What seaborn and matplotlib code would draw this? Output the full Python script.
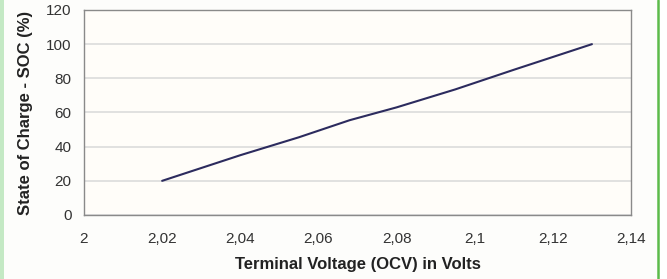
import numpy as np
import pandas as pd
import matplotlib
matplotlib.use("Agg")
import matplotlib.pyplot as plt
from matplotlib.ticker import FuncFormatter
from matplotlib.patches import Rectangle
from matplotlib.lines import Line2D
import seaborn as sns

# values
voltage = [2.02, 2.04, 2.055, 2.068, 2.08, 2.095, 2.11, 2.13]
soc = [20, 35, 45.5, 55.5, 63, 73.5, 85, 100]
x_ticks = [2.00, 2.02, 2.04, 2.06, 2.08, 2.10, 2.12, 2.14]
y_ticks = [0, 20, 40, 60, 80, 100, 120]


def comma_fmt(v, pos):
    s = f"{v:.2f}".rstrip("0").rstrip(".")
    return s.replace(".", ",")


sns.set_style("white")
plt.rcParams["font.family"] = ["Liberation Sans", "DejaVu Sans"]

df = pd.DataFrame({"voltage": voltage, "soc": soc})

fig = plt.figure(figsize=(6.67, 2.79), dpi=100)
fig.patch.set_facecolor("#fdfdfb")
ax = fig.add_axes([84 / 667, 1 - 215 / 279, (631 - 84) / 667, (215 - 10) / 279])
ax.set_facecolor("#fffdf9")

sns.lineplot(data=df, x="voltage", y="soc", ax=ax, color="#2c2b5e", lw=1.5)

ax.set_xlim(2.0, 2.14)
ax.set_ylim(0, 120)
ax.set_xticks(x_ticks)
ax.set_yticks(y_ticks)
ax.xaxis.set_major_formatter(FuncFormatter(comma_fmt))
ax.grid(True, axis="y", color="#dcdcdc", lw=1.2)
ax.set_axisbelow(True)

for side in ["top", "right", "bottom", "left"]:
    ax.spines[side].set_color("#8a8a8a")
    ax.spines[side].set_linewidth(1.0)

ax.tick_params(axis="both", direction="out", length=4, width=0.8,
               color="#8a8a8a", labelsize=11, labelcolor="#333333")
ax.tick_params(axis="x", pad=8)
ax.tick_params(axis="y", pad=5)
ax.set_xlabel("Terminal Voltage (OCV) in Volts", fontsize=12,
              fontweight="bold", color="#222222", labelpad=8)
ax.set_ylabel("State of Charge - SOC (%)", fontsize=12,
              fontweight="bold", color="#222222", labelpad=9)

# green frame decoration
fig.patches.append(Rectangle((0, 0), 4 / 667, 1, transform=fig.transFigure,
                             facecolor="#c4e9c4", edgecolor="none"))
fig.lines.append(Line2D([658 / 667, 658 / 667], [0, 1], transform=fig.transFigure,
                        color="#5cbb4a", lw=1.8))
fig.patches.append(Rectangle((659 / 667, 0), 8 / 667, 1, transform=fig.transFigure,
                             facecolor="white", edgecolor="none"))

fig.savefig("out.png", dpi=100, facecolor=fig.get_facecolor())
